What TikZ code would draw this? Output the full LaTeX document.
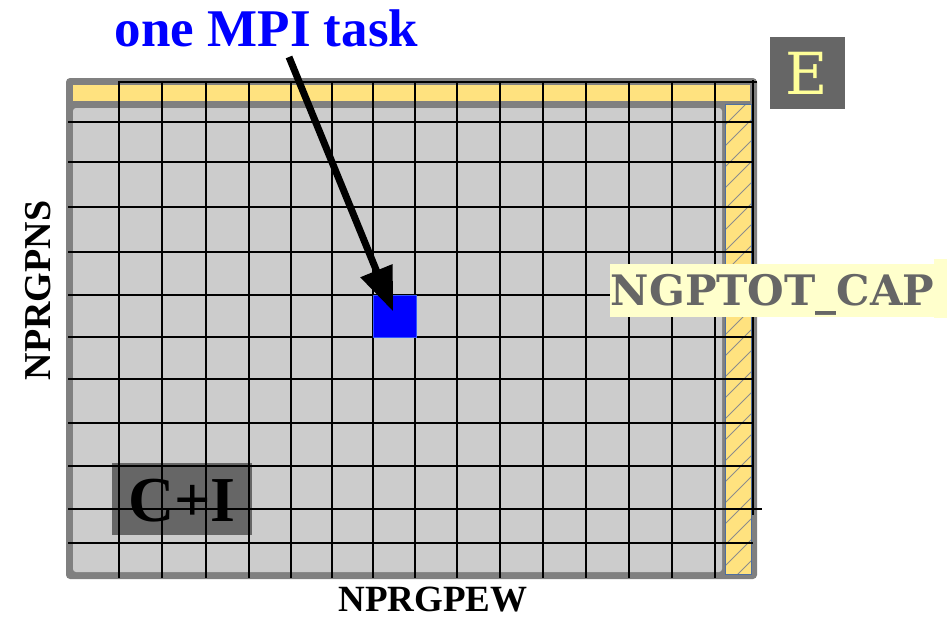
\documentclass[tikz,border=0pt]{standalone}
\usepackage{fontspec}
\setmainfont{Liberation Serif}
\newfontfamily\dvs{DejaVu Serif}
\usetikzlibrary{arrows.meta}
\definecolor{frameg}{HTML}{808080}
\definecolor{cellg}{HTML}{CCCCCC}
\definecolor{darkg}{HTML}{666666}
\definecolor{stripy}{HTML}{FFE27F}
\definecolor{labely}{HTML}{FFFFCC}
\definecolor{eyel}{HTML}{FFFF99}
\definecolor{hatchg}{HTML}{8C8C8C}
\definecolor{stripedge}{HTML}{4F6FA0}
\definecolor{sqedge}{HTML}{3355FF}
\begin{document}
\begin{tikzpicture}[x=1pt,y=-1pt,
  lbl/.style={inner sep=0pt,anchor=base},
  gridline/.style={black,line width=1.2pt},
  hatchline/.style={hatchg,line width=0.9pt},
  darkbox/.style={fill=darkg,draw=none}]
\useasboundingbox (0,0) rectangle (947,619);
% outer frame
\fill[frameg,rounded corners=4pt] (66,78) rectangle (757,579);
\fill[stripy] (73,85) rectangle (750,101);
\fill[cellg,rounded corners=3pt] (73,108) rectangle (722,572);
% hatched strip
\fill[stripy] (725.5,104) rectangle (751,574);
\begin{scope}
  \clip (725.5,104) rectangle (751,574);
  \foreach \y in {104,125,...,620}
    \draw[hatchline] (725,\y) -- (752,\y-27);
\end{scope}
\draw[stripedge,line width=1pt] (725.5,104) rectangle (751,574);
% C+I box
\fill[darkg] (112,463) rectangle (252,535);
% grid
\draw[gridline] (118,82) -- (757,82);
\foreach \x in {119,162,206,249,291,332,373,415,457,500,543,586,629,672,715}
  \draw[gridline] (\x,83) -- (\x,578);
\draw[gridline] (753,80) -- (753,515);
\foreach \y in {122,162,207,252,295,337,379,423,466,543}
  \draw[gridline] (68,\y) -- (753,\y);
\draw[gridline] (68,509) -- (762,509);
% blue square
\node[fill=blue,draw=sqedge,line width=0.8pt,minimum width=43pt,minimum height=42pt,inner sep=0pt] (sq) at (395,316) {};
% texts
\node[lbl,text=blue] (title) at (266.5,46) {\fontsize{53}{53}\selectfont\bfseries one MPI task};
\coordinate (tail) at (289,57);
\draw[line width=7pt,-{Triangle[length=44pt,width=33pt]},shorten >=5pt] (tail) -- (sq.center);
\node[darkbox,minimum width=75pt,minimum height=72pt,inner sep=0pt] (ebox) at (807.5,73) {};
\node[lbl,text=eyel] (etext) at (806.5,94) {\dvs\fontsize{58}{58}\selectfont E};
\node[lbl] (ci) at (182,521.7) {\fontsize{64}{64}\selectfont\bfseries C+I};
\fill[labely] (934,259) rectangle (947,318);
\node[fill=labely,minimum width=325pt,minimum height=53pt,inner sep=0pt] (capbox) at (772.5,290.5) {};
\node[lbl,text=darkg] (cap) at (772.5,305) {\dvs\fontsize{42}{42}\selectfont\bfseries NGPTOT\_CAP};
\node[lbl,rotate=90] (ns) at (50,290.5) {\fontsize{38}{38}\selectfont\bfseries NPRGPNS};
\node[lbl] (ew) at (433,611) {\fontsize{37}{37}\selectfont\bfseries NPRGPEW};
\end{tikzpicture}
\end{document}
